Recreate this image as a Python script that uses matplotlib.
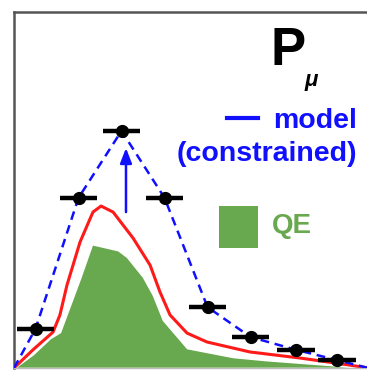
import numpy as np
import matplotlib.pyplot as plt
from matplotlib.lines import Line2D
from matplotlib.patches import Rectangle

plt.rcParams['font.family'] = ['Liberation Sans', 'DejaVu Sans']

# measured points (muon momentum bins)
p_bins = [0.125, 0.375, 0.625, 0.875, 1.125, 1.375, 1.64, 1.88]
p_data = [0.110, 0.478, 0.666, 0.478, 0.171, 0.087, 0.051, 0.022]
p_halfwidth = 0.11

# constrained model (blue dashed) goes through the data
model_x = [0.0] + p_bins + [2.06]
model_y = [0.0] + p_data + [0.0]

# nominal prediction (red)
nom_x = [0.0, 0.110, 0.227, 0.267, 0.308, 0.384, 0.459, 0.506, 0.576, 0.692,
         0.791, 0.849, 0.907, 1.006, 1.122, 1.372, 1.663, 1.953, 2.06]
nom_y = [0.0, 0.051, 0.101, 0.149, 0.233, 0.354, 0.438, 0.455, 0.438, 0.365,
         0.289, 0.213, 0.149, 0.098, 0.073, 0.045, 0.028, 0.008, 0.0]

# QE component (green fill)
qe_x = [0.0, 0.110, 0.209, 0.267, 0.384, 0.453, 0.605, 0.657, 0.750, 0.808,
        0.866, 1.006, 1.273, 1.471, 1.855, 2.06]
qe_y = [0.0, 0.039, 0.084, 0.101, 0.253, 0.348, 0.331, 0.312, 0.256, 0.205,
        0.135, 0.056, 0.031, 0.022, 0.008, 0.0]

W, H = 367, 370
fig = plt.figure(figsize=(W / 100, H / 100), dpi=100)
ax = fig.add_axes([14 / W, 2 / H, 1 - 14 / W, 356 / H])
ax.set_xlim(0, 2.052)
ax.set_ylim(0, 1.0)

green = '#68a84e'
blue = '#1010ff'
ax.fill_between(qe_x, qe_y, color=green, edgecolor='white', linewidth=1.2, zorder=1)
ax.plot(nom_x, nom_y, color='#ff1a1a', linewidth=2.2, zorder=2)
ax.plot(model_x, model_y, color=blue, linewidth=1.8, dashes=(3.5, 2.3), zorder=3)
ax.errorbar(p_bins, p_data, xerr=p_halfwidth, fmt='o', color='black',
            markersize=8.5, elinewidth=3.2, capsize=0, zorder=4)

# shift from nominal to constrained
ax.annotate('', xy=(0.651, 0.618), xytext=(0.651, 0.438),
            arrowprops=dict(arrowstyle='-|>,head_width=0.35,head_length=0.9',
                            color=blue, linewidth=1.8, shrinkA=0, shrinkB=0))

ax.spines['right'].set_visible(False)
for side in ['left', 'top']:
    ax.spines[side].set_color('#555555')
    ax.spines[side].set_linewidth(1.8)
ax.spines['bottom'].set_color('#bbbbbb')
ax.spines['bottom'].set_linewidth(1.0)
ax.set_xticks([])
ax.set_yticks([])

def fx(px):
    return px / W

def fy(py):
    return 1 - py / H

fig.text(fx(270), fy(65), 'P', fontsize=38, color='black', fontweight='bold',
         va='baseline', ha='left')
fig.text(fx(305), fy(86), 'μ', fontsize=16, color='black', fontweight='bold',
         fontstyle='italic', va='baseline', ha='left')

fig.add_artist(Line2D([fx(227), fx(258)], [fy(118), fy(118)], color=blue, linewidth=3))
fig.text(fx(357), fy(128), 'model', fontsize=20.5, color=blue, fontweight='bold',
         va='baseline', ha='right')
fig.text(fx(357), fy(161), '(constrained)', fontsize=20.5, color=blue, fontweight='bold',
         va='baseline', ha='right')

fig.add_artist(Rectangle((fx(219), fy(248)), (258 - 219) / W, (248 - 206) / H,
                         transform=fig.transFigure, facecolor=green, edgecolor='none'))
fig.text(fx(272), fy(233), 'QE', fontsize=20, color=green, fontweight='bold',
         va='baseline', ha='left')

fig.savefig('out.png', dpi=100)
